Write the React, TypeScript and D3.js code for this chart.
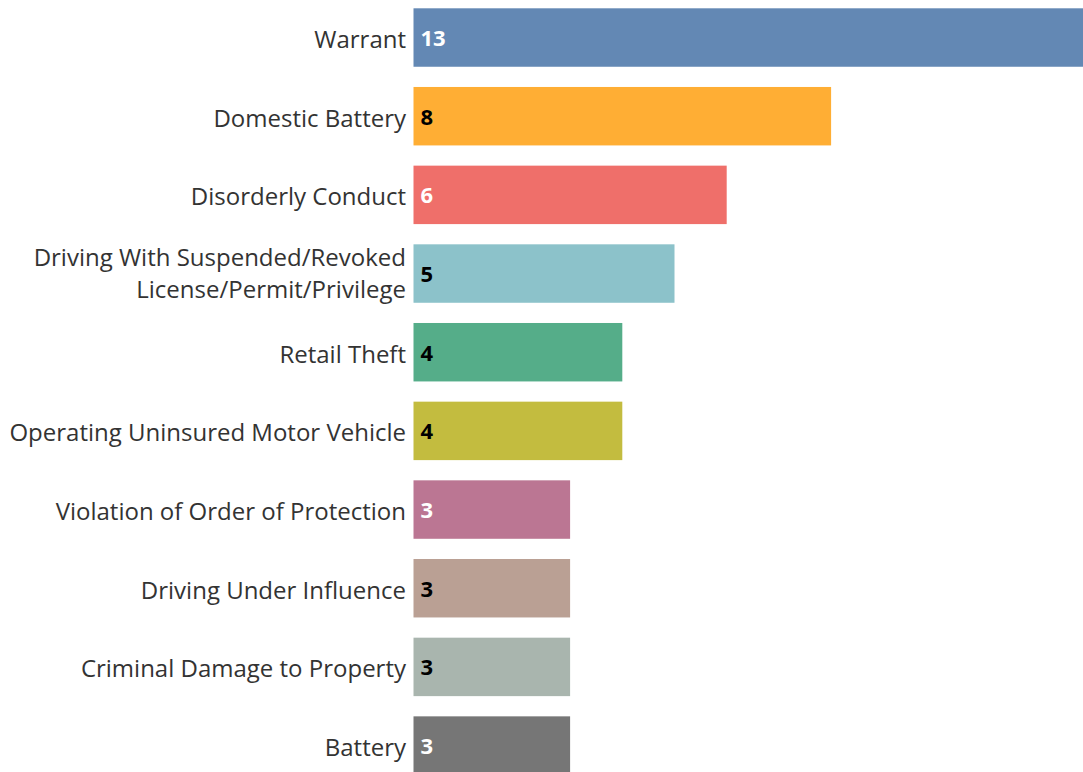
import { useEffect, useRef } from "react";
import * as d3 from "d3";

// categories, top to bottom
const categories = [
  "Warrant",
  "Domestic Battery",
  "Disorderly Conduct",
  "Driving With Suspended/Revoked License/Permit/Privilege",
  "Retail Theft",
  "Operating Uninsured Motor Vehicle",
  "Violation of Order of Protection",
  "Driving Under Influence",
  "Criminal Damage to Property",
  "Battery",
];
const counts = [13, 8, 6, 5, 4, 4, 3, 3, 3, 3];
const barColors = [
  "#6388b4",
  "#ffae34",
  "#ef6f6a",
  "#8cc2ca",
  "#55ad89",
  "#c3bc3f",
  "#bb7693",
  "#baa094",
  "#a9b5ae",
  "#767676",
];
const valueColors = [
  "#ffffff",
  "#000000",
  "#ffffff",
  "#000000",
  "#000000",
  "#000000",
  "#ffffff",
  "#000000",
  "#000000",
  "#ffffff",
];
// wrapped label lines
const labelLines: Record<string, string[]> = {
  "Driving With Suspended/Revoked License/Permit/Privilege": [
    "Driving With Suspended/Revoked",
    "License/Permit/Privilege",
  ],
};

export default function App() {
  const svgRef = useRef<SVGSVGElement>(null);

  useEffect(() => {
    document.body.style.margin = "0";
    if (!svgRef.current) return;
    const width = 1083;
    const height = 772;
    const svg = d3.select(svgRef.current);
    svg.attr("width", width).attr("height", height);
    svg.selectAll("*").remove();

    const left = 413.5;
    const x = d3.scaleLinear().domain([0, 13]).range([left, left + 678.6]);
    const y = d3
      .scaleBand<string>()
      .domain(categories)
      .range([8.3, 774.8])
      .paddingInner(0.257)
      .paddingOuter(0);

    const font = "'Open Sans', 'Noto Sans', sans-serif";

    const rows = svg
      .selectAll("g.row")
      .data(categories)
      .enter()
      .append("g")
      .attr("class", "row");

    rows
      .append("rect")
      .attr("x", x(0))
      .attr("y", (d) => y(d)!)
      .attr("width", (d, i) => x(counts[i]) - x(0))
      .attr("height", y.bandwidth())
      .attr("fill", (d, i) => barColors[i]);

    // category labels
    rows.each(function (d) {
      const cy = y(d)! + y.bandwidth() / 2;
      const lines = labelLines[d] || [d];
      const lineH = 31.6;
      const base =
        lines.length > 1
          ? cy + 8.5 - ((lines.length - 1) * lineH) / 2
          : cy + 10.5;
      const t = d3
        .select(this)
        .append("text")
        .attr("text-anchor", "end")
        .attr("font-family", font)
        .attr("font-size", "24px")
        .attr("fill", "#333");
      lines.forEach((line, j) => {
        t.append("tspan")
          .attr("x", left - 7.5)
          .attr("y", base + j * lineH)
          .text(line);
      });
    });

    // values
    rows
      .append("text")
      .attr("x", x(0) + 7)
      .attr("y", (d) => y(d)! + y.bandwidth() / 2 + 8.5)
      .attr("font-family", font)
      .attr("font-weight", "bold")
      .attr("font-size", "22px")
      .attr("fill", (d, i) => valueColors[i])
      .text((d, i) => counts[i]);
  }, []);

  return (
    <div>
      <svg ref={svgRef} style={{ display: "block" }} />
    </div>
  );
}
